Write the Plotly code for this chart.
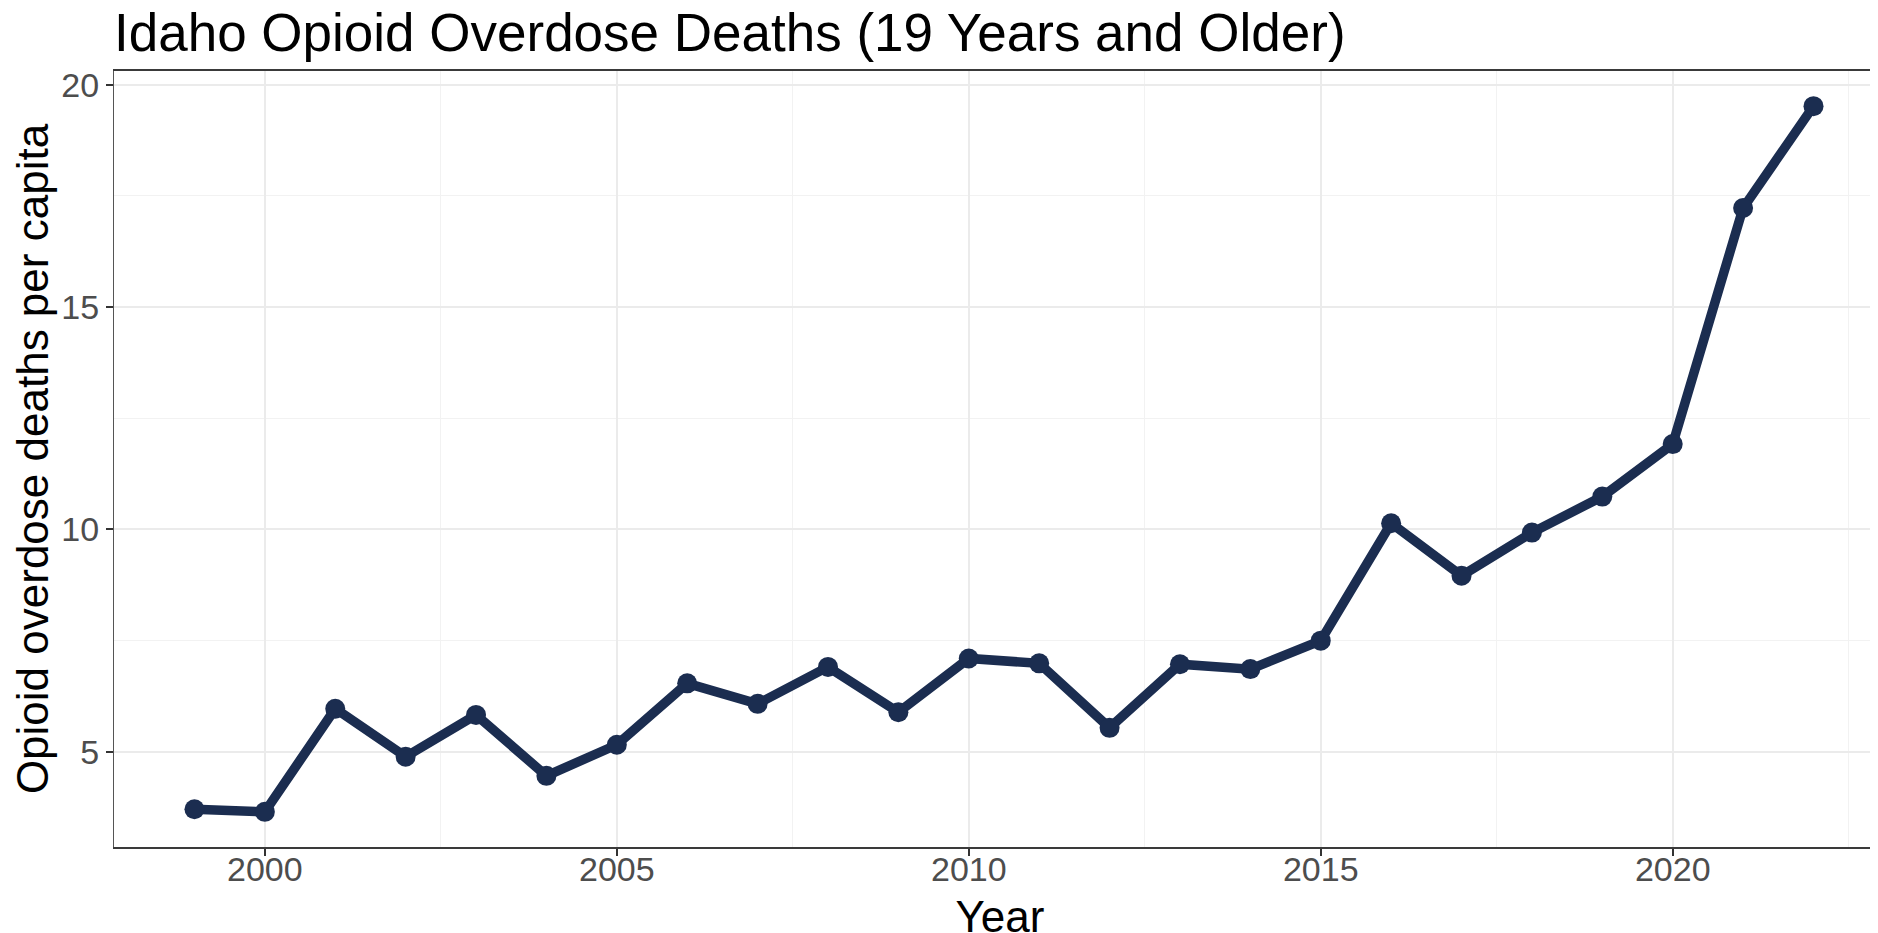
import plotly.graph_objects as go

years = list(range(1999, 2023))
deaths_per_capita = [3.71, 3.65, 5.97, 4.89, 5.83, 4.46, 5.16, 6.54, 6.08, 6.91, 5.89, 7.10,
                     6.99, 5.54, 6.97, 6.86, 7.50, 10.14, 8.96, 9.93, 10.74, 11.92, 17.23, 19.52]
x_ticks = [2000, 2005, 2010, 2015, 2020]
y_ticks = [5, 10, 15, 20]
x_minor = [2002.5, 2007.5, 2012.5, 2017.5, 2022.5]
y_minor = [7.5, 12.5, 17.5]

title_text = "Idaho Opioid Overdose Deaths (19 Years and Older)"
x_title = "Year"
y_title = "Opioid overdose deaths per capita"

line_color = "#1B2D50"
font_family = "Liberation Sans, Arial, sans-serif"

fig = go.Figure()
fig.add_trace(go.Scatter(
    x=years, y=deaths_per_capita, mode="lines+markers",
    line=dict(color=line_color, width=9.5),
    marker=dict(color=line_color, size=20),
    showlegend=False,
))

fig.update_layout(
    width=1878, height=933,
    paper_bgcolor="white", plot_bgcolor="white",
    margin=dict(l=106, r=0, t=63, b=94, autoexpand=False),
    font=dict(family=font_family),
    title=dict(text=title_text, x=106/1878, xanchor="left", xref="container",
               y=1 - 24/933, yanchor="middle", yref="container",
               font=dict(size=53, color="black")),
)

fig.update_xaxes(
    range=[1997.857, 2023.03],
    tickvals=x_ticks, ticktext=[str(v) for v in x_ticks],
    tickfont=dict(size=34, color="#4D4D4D"),
    ticks="outside", ticklen=7, tickcolor="#333333", tickwidth=1.5,
    ticklabelstandoff=-16,
    showgrid=True, gridcolor="#EBEBEB", gridwidth=2,
    minor=dict(showgrid=True, gridcolor="#F2F2F2", gridwidth=1, tickvals=x_minor),
    showline=True, linecolor="#3A3A3A", linewidth=1.5, mirror=True,
    zeroline=False, automargin=False,
    title=dict(text=x_title, font=dict(size=44, color="black"), standoff=20),
)
fig.update_yaxes(
    range=[2.86, 20.31],
    tickvals=y_ticks, ticktext=[str(v) for v in y_ticks],
    tickfont=dict(size=34, color="#4D4D4D"),
    ticks="outside", ticklen=7, tickcolor="#333333", tickwidth=1.5,
    showgrid=True, gridcolor="#EBEBEB", gridwidth=2,
    minor=dict(showgrid=True, gridcolor="#F2F2F2", gridwidth=1, tickvals=y_minor),
    showline=True, linecolor="#555555", linewidth=1.2, mirror=False,
    zeroline=False, automargin=False,
    title=dict(text=y_title, font=dict(size=44, color="black"), standoff=6),
)

fig.write_html("out.html")
